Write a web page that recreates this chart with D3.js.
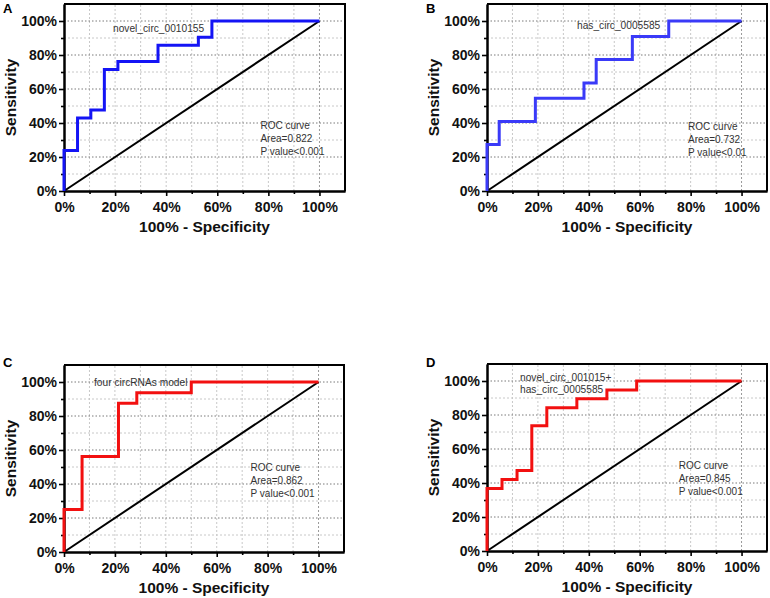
<!DOCTYPE html>
<html>
<head>
<meta charset="utf-8">
<script src="https://cdn.jsdelivr.net/npm/d3@7/dist/d3.min.js"></script>
<style>
  html, body { margin: 0; padding: 0; background: #fff; }
  svg { display: block; }
  text { font-family: "Liberation Sans", Arial, sans-serif; }
</style>
</head>
<body>
<svg id="chart" width="770" height="598"></svg>
<script>
// ---- data (percent) ----
const majorTicks = [0, 20, 40, 60, 80, 100];
const minorTicks = [10, 30, 50, 70, 90];
const gridTicks = [10, 20, 30, 40, 50, 60, 70, 80, 90, 100];

const specA = [0, 0, 5.3, 5.3, 10.5, 10.5, 15.8, 15.8, 21.1, 21.1, 36.8, 36.8, 52.6, 52.6, 57.9, 57.9, 100];
const sensA = [0, 23.8, 23.8, 42.9, 42.9, 47.6, 47.6, 71.4, 71.4, 76.2, 76.2, 85.7, 85.7, 90.5, 90.5, 100, 100];

const specB = [0, 0, 4.8, 4.8, 19.0, 19.0, 38.1, 38.1, 42.9, 42.9, 57.1, 57.1, 71.4, 71.4, 100];
const sensB = [0, 27.3, 27.3, 40.9, 40.9, 54.5, 54.5, 63.6, 63.6, 77.3, 77.3, 90.9, 90.9, 100, 100];

const specC = [0, 0, 7.1, 7.1, 21.4, 21.4, 28.6, 28.6, 50.0, 50.0, 100];
const sensC = [0, 25.0, 25.0, 56.25, 56.25, 87.5, 87.5, 93.75, 93.75, 100, 100];

const specD = [0, 0, 5.9, 5.9, 11.8, 11.8, 17.6, 17.6, 23.5, 23.5, 35.3, 35.3, 47.1, 47.1, 58.8, 58.8, 100];
const sensD = [0, 36.8, 36.8, 42.1, 42.1, 47.4, 47.4, 73.7, 73.7, 84.2, 84.2, 89.5, 89.5, 94.7, 94.7, 100, 100];

const panelLetters = ["A", "B", "C", "D"];
const curveLabels = [["novel_circ_0010155"], ["has_circ_0005585"], ["four circRNAs model"], ["novel_circ_001015+", "has_circ_0005585"]];
const areaValues = ["0.822", "0.732", "0.862", "0.845"];
const pValues = ["P value<0.001", "P value<0.01", "P value<0.001", "P value<0.001"];
const xTitle = "100% - Specificity";
const yTitle = "Sensitivity";

// ---- layout ----
const panels = [
  { spec: specA, sens: sensA, color: "#1414f5", x0: 64, x1: 345, y0: 191, y1: 4, lx: 113, ly: 32, rx: 76.9, ry: 36.4, letter: [3, 13] },
  { spec: specB, sens: sensB, color: "#3a3af8", x0: 487, x1: 767, y0: 191, y1: 4, lx: 577, ly: 29, rx: 79.0, ry: 36.0, letter: [426, 13] },
  { spec: specC, sens: sensC, color: "#f21010", x0: 64, x1: 344, y0: 552, y1: 365, lx: 94, ly: 385.5, rx: 73.3, ry: 47.9, letter: [3, 367] },
  { spec: specD, sens: sensD, color: "#f21010", x0: 487, x1: 767, y0: 551, y1: 364, lx: 520, ly: 380.5, rx: 75.3, ry: 48.3, letter: [426, 367] }
];

const svg = d3.select("#chart");

panels.forEach((p, i) => {
  const x = d3.scaleLinear().domain([0, 110]).range([p.x0, p.x1]);
  const y = d3.scaleLinear().domain([0, 110]).range([p.y0, p.y1]);
  const g = svg.append("g");

  // grid
  g.selectAll(".vg").data(gridTicks).join("line")
    .attr("x1", d => x(d)).attr("x2", d => x(d))
    .attr("y1", y(0)).attr("y2", y(110))
    .attr("stroke", d => d === 100 ? "#999" : "#c8c8c8")
    .attr("stroke-width", 1)
    .attr("stroke-dasharray", "2,2");
  g.selectAll(".hg").data(gridTicks).join("line")
    .attr("x1", x(0)).attr("x2", x(110))
    .attr("y1", d => y(d)).attr("y2", d => y(d))
    .attr("stroke", d => d % 20 === 0 ? "#7a7a7a" : "#c8c8c8")
    .attr("stroke-width", 1)
    .attr("stroke-dasharray", d => d % 20 === 0 ? "1.5,2" : "2,2");

  // frame top/right
  g.append("path")
    .attr("d", `M${x(0)},${y(110)}H${x(110)}V${y(0)}`)
    .attr("fill", "none").attr("stroke", "#000").attr("stroke-width", 2);

  // axes
  const fmt = d => d + "%";
  const yAx = g.append("g").attr("transform", `translate(${x(0)},0)`)
    .call(d3.axisLeft(y).tickValues(majorTicks).tickFormat(fmt).tickSize(5).tickPadding(2).tickSizeOuter(0));
  const yMin = g.append("g").attr("transform", `translate(${x(0)},0)`)
    .call(d3.axisLeft(y).tickValues(minorTicks).tickFormat("").tickSize(3).tickSizeOuter(0));
  const xAx = g.append("g").attr("transform", `translate(0,${y(0)})`)
    .call(d3.axisBottom(x).tickValues(majorTicks).tickFormat(fmt).tickSize(5).tickPadding(6).tickSizeOuter(0));
  const xMin = g.append("g").attr("transform", `translate(0,${y(0)})`)
    .call(d3.axisBottom(x).tickValues(minorTicks).tickFormat("").tickSize(3).tickSizeOuter(0));
  [yAx, yMin, xAx, xMin].forEach(a => {
    a.select(".domain").attr("stroke", "#000").attr("stroke-width", 2);
    a.selectAll(".tick line").attr("stroke", "#000").attr("stroke-width", 1.6);
    a.selectAll(".tick text").attr("font-size", 14).attr("font-weight", "bold")
      .attr("fill", "#111").attr("font-family", "'Liberation Sans', Arial, sans-serif");
  });

  // diagonal
  g.append("line")
    .attr("x1", x(0)).attr("y1", y(0)).attr("x2", x(100)).attr("y2", y(100))
    .attr("stroke", "#000").attr("stroke-width", 2);

  // ROC step curve
  const pts = p.spec.map((s, k) => [s, p.sens[k]]);
  g.append("path")
    .attr("d", d3.line().x(d => x(d[0])).y(d => y(d[1]))(pts))
    .attr("fill", "none").attr("stroke", p.color).attr("stroke-width", 3)
    .attr("stroke-linejoin", "miter");

  // curve label
  curveLabels[i].forEach((t, k) => {
    g.append("text").attr("x", p.lx).attr("y", p.ly + k * 12.5)
      .attr("font-size", 10.2).attr("fill", "#333").text(t);
  });

  // ROC stats
  const stats = ["ROC curve", "Area=" + areaValues[i], pValues[i]];
  stats.forEach((t, k) => {
    g.append("text").attr("x", x(p.rx)).attr("y", y(p.ry) + k * 13)
      .attr("font-size", 10).attr("fill", "#333").text(t);
  });

  // axis titles
  g.append("text")
    .attr("x", (x(0) + x(110)) / 2).attr("y", y(0) + 41)
    .attr("text-anchor", "middle").attr("font-size", 15.5).attr("font-weight", "bold")
    .attr("fill", "#111").text(xTitle);
  g.append("text")
    .attr("transform", `translate(${x(0) - 48},${(y(0) + y(110)) / 2}) rotate(-90)`)
    .attr("text-anchor", "middle").attr("font-size", 15.5).attr("font-weight", "bold")
    .attr("fill", "#111").text(yTitle);

  // panel letter
  g.append("text").attr("x", p.letter[0]).attr("y", p.letter[1])
    .attr("font-size", 13).attr("font-weight", "bold").attr("fill", "#000")
    .text(panelLetters[i]);
});
</script>
</body>
</html>
